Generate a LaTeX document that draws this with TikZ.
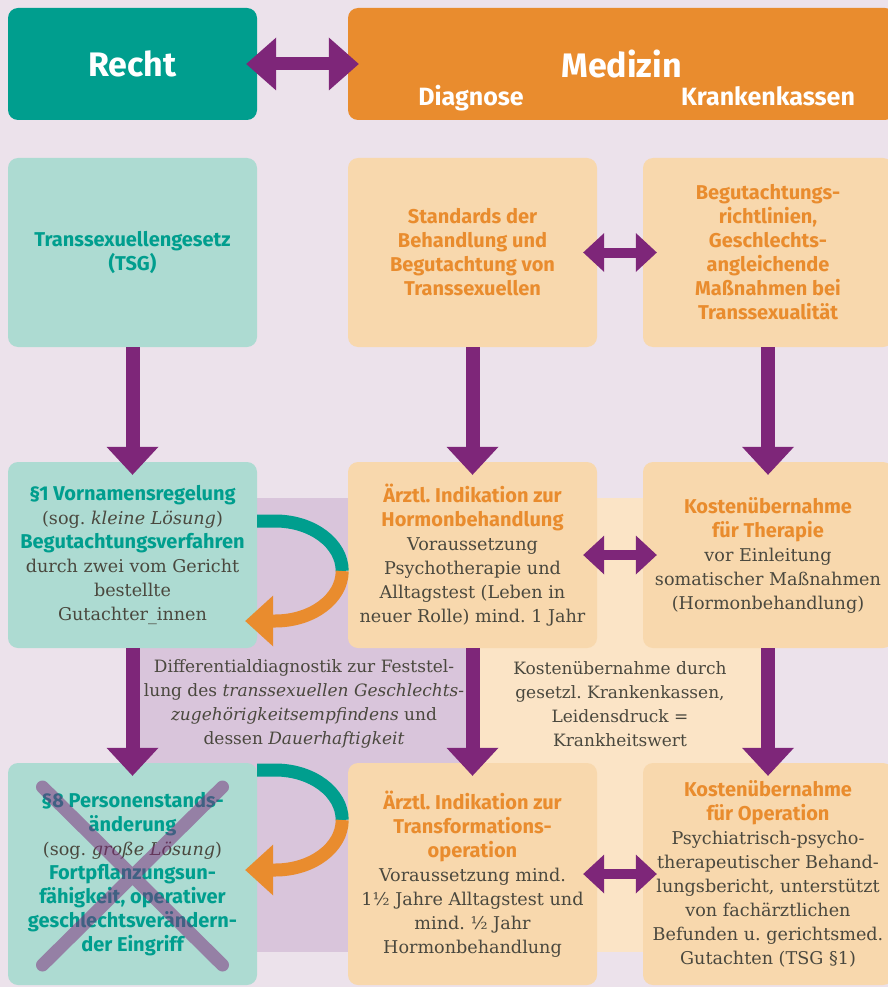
\documentclass[tikz,border=0pt]{standalone}
\usepackage{fontspec}
\setmainfont{DejaVu Serif}
\newfontfamily\kopffont{Fira Sans}
\usetikzlibrary{arrows.meta,positioning,calc}
\frenchspacing

\definecolor{hgrund}{RGB}{236,226,235}
\definecolor{lilaflaeche}{RGB}{217,197,219}
\definecolor{pfirsich}{RGB}{251,228,198}
\definecolor{petrol}{RGB}{0,158,142}
\definecolor{petrolhell}{RGB}{173,219,210}
\definecolor{medorange}{RGB}{233,140,46}
\definecolor{orangehell}{RGB}{248,216,173}
\definecolor{lila}{RGB}{126,38,121}
\definecolor{schrift}{RGB}{74,72,62}

\newcommand{\rtitel}[1]{{\kopffont\bfseries\fontsize{20}{24}\selectfont\color{petrol}#1}}
\newcommand{\mtitel}[1]{{\kopffont\bfseries\fontsize{20}{24}\selectfont\color{medorange}#1}}

\begin{document}
\begin{tikzpicture}[
    x=1pt, y=1pt,
    kopf/.style={
        rectangle,
        rounded corners=10pt,
        fill=#1,
        minimum height=112pt,
        text=white,
        font=\kopffont\bfseries\fontsize{34}{40}\selectfont
    },
    unterkopf/.style={
        text=white,
        anchor=base,
        inner sep=0pt,
        font=\kopffont\bfseries\fontsize{25}{30}\selectfont
    },
    kasten/.style={
        rectangle,
        rounded corners=10pt,
        fill=#1,
        minimum width=249pt,
        inner sep=0pt,
        text=schrift,
        font=\fontsize{17.6}{24}\selectfont,
        align=center
    },
    hinweis/.style={
        text=schrift,
        font=\fontsize{17}{24}\selectfont,
        align=center
    },
    pfeil/.style={
        draw=lila,
        line width=14pt,
        -{Triangle[length=28pt,width=52pt,line width=0pt]},
        shorten >=-13pt
    },
    kopfpfeil/.style={
        draw=lila,
        line width=13pt,
        {Triangle[length=30pt,width=53pt,line width=0pt]}-{Triangle[length=30pt,width=53pt,line width=0pt]},
        shorten >=-11pt, shorten <=-11pt
    },
    doppelpfeil/.style={
        draw=lila,
        line width=10pt,
        {Triangle[length=21pt,width=39pt,line width=0pt]}-{Triangle[length=21pt,width=39pt,line width=0pt]},
        shorten >=-14pt, shorten <=-14pt
    },
    bogen/.style={
        draw=#1,
        line width=13pt
    },
    kreuz/.style={
        draw=lila,
        line width=13pt,
        line cap=round,
        draw opacity=0.5
    }
]

% page background
\fill[hgrund] (0,0) rectangle (888,-987);
\useasboundingbox (0,0) rectangle (888,-987);

% shaded zones behind the two lower rows
\fill[lilaflaeche] (133,-498) rectangle (472,-952);
\fill[pfirsich] (472,-498) rectangle (767,-952);

% Header: law vs. medicine
\node[kopf=petrol, minimum width=249pt] (recht) at (132.5,-64) {Recht};
\node[kopf=medorange, minimum width=547pt] (medizin) at (621.5,-64) {Medizin};
\node[unterkopf] (diagnose) at (471,-106) {Diagnose};
\node[unterkopf] (kassen) at (768,-106) {Krankenkassen};

\draw[kopfpfeil] (recht) -- (medizin);

% Row 1: legal and medical guidelines
\node[kasten=petrolhell, minimum height=189pt] (tsg) at (132.5,-252.5)
  {\rtitel{Transsexuellengesetz}\\\rtitel{(TSG)}};
\node[kasten=orangehell, minimum height=189pt] (standards) at (472.5,-252.5)
  {\mtitel{Standards der}\\\mtitel{Behandlung und}\\\mtitel{Begutachtung von}\\\mtitel{Transsexuellen}};
\node[kasten=orangehell, minimum height=189pt, minimum width=250pt] (richtl) at (768,-252.5)
  {\mtitel{Begutachtungs-}\\\mtitel{richtlinien,}\\\mtitel{Geschlechts-}\\\mtitel{angleichende}\\\mtitel{Maßnahmen bei}\\\mtitel{Transsexualität}};

\draw[doppelpfeil] (standards) -- (richtl);

% Row 2: small solution / hormones
\node[kasten=petrolhell, minimum height=186pt] (para1) at (132.5,-555)
  {\rtitel{§1 Vornamensregelung}\\(sog. \textit{kleine Lösung})\\\rtitel{Begutachtungsverfahren}\\durch zwei vom Gericht\\bestellte\\Gutachter\_innen};
\node[kasten=orangehell, minimum height=186pt] (hormon) at (472.5,-555)
  {\mtitel{Ärztl. Indikation zur}\\\mtitel{Hormonbehandlung}\\Voraussetzung\\Psychotherapie und\\Alltagstest (Leben in\\neuer Rolle) mind. 1 Jahr};
\node[kasten=orangehell, minimum height=186pt, minimum width=250pt] (kostth) at (768,-555)
  {\mtitel{Kostenübernahme}\\\mtitel{für Therapie}\\vor Einleitung\\somatischer Maßnahmen\\(Hormonbehandlung)};

\draw[doppelpfeil] (hormon) -- (kostth);

% notes between the rows
\node[hinweis] (diffdiag) at (304,-704)
  {Differentialdiagnostik zur Feststel-\\lung des \textit{transsexuellen Geschlechts-}\\\textit{zugehörigkeitsempfindens} und\\dessen \textit{Dauerhaftigkeit}};
\node[hinweis] (leiden) at (620,-704)
  {Kostenübernahme durch\\gesetzl. Krankenkassen,\\Leidensdruck =\\Krankheitswert};

% Row 3: big solution / surgery
\node[kasten=petrolhell, minimum height=222pt] (para8) at (132.5,-874)
  {\rtitel{§8 Personenstands-}\\\rtitel{änderung}\\(sog. \textit{große Lösung})\\\rtitel{Fortpflanzungsun-}\\\rtitel{fähigkeit, operativer}\\\rtitel{geschlechtsverändern-}\\\rtitel{der Eingriff}};
\node[kasten=orangehell, minimum height=222pt] (transop) at (472.5,-874)
  {\mtitel{Ärztl. Indikation zur}\\\mtitel{Transformations-}\\\mtitel{operation}\\Voraussetzung mind.\\1½ Jahre Alltagstest und\\mind. ½ Jahr\\Hormonbehandlung};
\node[kasten=orangehell, minimum height=222pt, minimum width=250pt] (kostop) at (768,-874)
  {\mtitel{Kostenübernahme}\\\mtitel{für Operation}\\Psychiatrisch-psycho-\\therapeutischer Behand-\\lungsbericht, unterstützt\\von fachärztlichen\\Befunden u. gerichtsmed.\\Gutachten (TSG §1)};

\draw[doppelpfeil] (transop) -- (kostop);

% downward flow in each column
\draw[pfeil] (tsg) -- (para1);
\draw[pfeil] (standards) -- (hormon);
\draw[pfeil] (richtl) -- (kostth);
\draw[pfeil] (para1) -- (para8);
\draw[pfeil] (hormon) -- (transop);
\draw[pfeil] (kostth) -- (kostop);

% loops back from medicine into the legal boxes
\draw[bogen=petrol] ([yshift=34pt]para1.east) -- ++(18,0)
  arc[start angle=90, end angle=0, x radius=67, y radius=50] coordinate (wende1);
\draw[bogen=medorange, -{Triangle[length=28pt,width=51pt,line width=0pt]}] (wende1)
  arc[start angle=0, end angle=-90, x radius=67, y radius=50] -- ++(-30,0);

\draw[bogen=petrol] ([yshift=104pt]para8.east) -- ++(18,0)
  arc[start angle=90, end angle=0, x radius=67, y radius=50] coordinate (wende8);
\draw[bogen=medorange, -{Triangle[length=28pt,width=51pt,line width=0pt]}] (wende8)
  arc[start angle=0, end angle=-90, x radius=67, y radius=50] -- ++(-30,0);

% crossed out: sterility requirement no longer applies
\draw[kreuz] ([shift={(-90,87)}]para8.center) -- ([shift={(90,-91)}]para8.center)
             ([shift={(90,87)}]para8.center) -- ([shift={(-90,-91)}]para8.center);

\end{tikzpicture}
\end{document}
